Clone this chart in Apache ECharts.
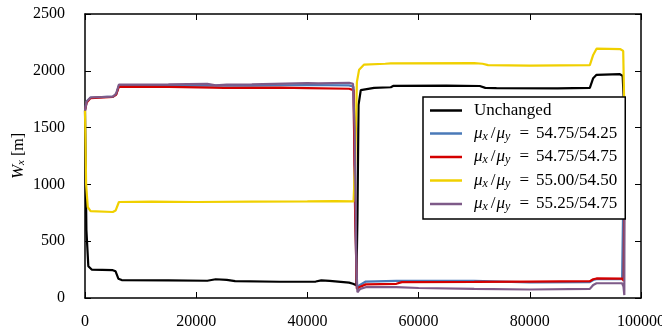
<!DOCTYPE html>
<html>
<head>
<meta charset="utf-8">
<script src="https://cdn.jsdelivr.net/npm/echarts@6/dist/echarts.min.js"></script>
<style>
  html, body { margin: 0; padding: 0; background: #fff; }
  #chart { width: 662px; height: 330px; }
</style>
</head>
<body>
<div id="chart"></div>
<script>
  // data, [x, Wx] pairs
  const unchanged = [
    [0, 1650], [250, 600], [600, 280], [1200, 250], [5000, 245], [5500, 235], [6000, 170], [6600, 158],
    [15000, 155], [22000, 152], [23500, 165], [25500, 160], [27000, 148], [35000, 143], [41500, 145],
    [42500, 155], [44000, 150], [47500, 135], [48200, 125], [48800, 112], [49000, 700], [49200, 1700],
    [49600, 1830], [52000, 1850], [55000, 1855], [55500, 1868], [65000, 1870], [71000, 1866], [72000, 1850],
    [74000, 1848], [85000, 1845], [90800, 1850], [91400, 1935], [92000, 1965], [96200, 1970], [96700, 1955],
    [97000, 1650]
  ];
  const ratioA = [
    [0, 1650], [300, 1730], [1000, 1765], [5000, 1772], [5600, 1790], [6100, 1870], [15000, 1872],
    [30000, 1870], [40000, 1875], [47500, 1872], [48300, 1860], [48600, 700], [48900, 90], [49300, 110],
    [50500, 145], [56000, 150], [70000, 150], [80000, 138], [90800, 140], [91400, 158], [92000, 165],
    [96600, 165], [96900, 150], [97050, 1650]
  ];
  const ratioB = [
    [0, 1650], [300, 1720], [1000, 1760], [5000, 1770], [5600, 1790], [6100, 1860], [15000, 1858],
    [23000, 1852], [25000, 1850], [35000, 1852], [40000, 1848], [47500, 1842], [48300, 1830], [48600, 700],
    [48900, 80], [49300, 95], [50500, 120], [56000, 125], [57000, 140], [70000, 142], [80000, 145],
    [90800, 148], [91400, 165], [92000, 172], [96600, 170], [96900, 150], [97050, 1650]
  ];
  const ratioC = [
    [0, 1650], [200, 1000], [500, 800], [1000, 765], [5000, 757], [5500, 770], [6100, 845], [12000, 848],
    [20000, 845], [30000, 848], [40000, 850], [45000, 852], [48300, 850], [48600, 1200], [48900, 1900],
    [49300, 2010], [50200, 2055], [54000, 2062], [55000, 2066], [70000, 2068], [71500, 2062], [72500, 2050],
    [80000, 2046], [90800, 2050], [91400, 2140], [92000, 2195], [96300, 2190], [96800, 2175], [97000, 1650]
  ];
  const ratioD = [
    [0, 1650], [300, 1730], [1000, 1765], [5000, 1772], [5600, 1800], [6100, 1878], [15000, 1880],
    [22000, 1885], [23500, 1872], [25500, 1878], [30000, 1880], [40000, 1892], [42000, 1890], [47500, 1895],
    [48200, 1885], [48500, 1500], [48800, 300], [49000, 50], [49500, 80], [50500, 95], [56000, 95],
    [60000, 88], [70000, 80], [80000, 75], [90800, 80], [91400, 115], [92000, 130], [96600, 130],
    [96850, 100], [97000, 26], [97050, 1650]
  ];

  const ratios = ['54.75/54.25', '54.75/54.75', '55.00/54.50', '55.25/54.75'];
  const seriesNames = ['Unchanged'].concat(ratios.map(r => 'μx/μy = ' + r));
  const seriesData = [unchanged, ratioA, ratioB, ratioC, ratioD];
  const colors = ['#000000', '#4a7ab8', '#d40000', '#f0d000', '#7e5a88'];
  const xTicks = { min: 0, max: 100000, interval: 20000 };
  const yTicks = { min: 0, max: 2500, interval: 500 };

  const serif = '"Liberation Serif", "DejaVu Serif", serif';
  const frame = { show: true, onZero: false, lineStyle: { color: '#000', width: 1.5 } };
  const tick = { show: true, inside: true, length: 6, lineStyle: { color: '#000', width: 1 } };

  const chart = echarts.init(document.getElementById('chart'), null, { renderer: 'canvas' });

  chart.setOption({
    animation: false,
    color: colors,
    grid: { left: 85, right: 21, top: 14, bottom: 32, outerBoundsMode: 'none', containLabel: false },
    legend: {
      orient: 'vertical',
      left: 423,
      top: 97,
      padding: [5, 8, 6, 7],
      itemGap: 6,
      itemWidth: 32,
      itemHeight: 2.5,
      icon: 'rect',
      backgroundColor: '#fff',
      borderColor: '#000',
      borderWidth: 1.5,
      borderRadius: 0,
      data: seriesNames,
      formatter: function (name) {
        if (name === 'Unchanged') return '{n|Unchanged}';
        const r = name.split(' = ')[1];
        return '{m|μ}{s|x}{sl|/}{m|μ}{s|y}{e|=}{n|' + r + '}';
      },
      textStyle: {
        fontFamily: serif,
        fontSize: 17,
        color: '#000',
        padding: [0, 0, 0, 7],
        rich: {
          n: { fontFamily: serif, fontSize: 17, color: '#000', lineHeight: 17 },
          m: { fontFamily: serif, fontSize: 17, fontStyle: 'italic', color: '#000', lineHeight: 17 },
          s: { fontFamily: serif, fontSize: 12, fontStyle: 'italic', color: '#000', padding: [6, 2, 0, 0] },
          sl: { fontFamily: serif, fontSize: 17, color: '#000', lineHeight: 17, padding: [0, 1, 0, 1] },
          e: { fontFamily: serif, fontSize: 17, color: '#000', lineHeight: 17, padding: [0, 7, 0, 7] }
        }
      }
    },
    xAxis: [
      {
        type: 'value', ...xTicks,
        axisLine: frame, axisTick: tick, splitLine: { show: false },
        axisLabel: {
          fontFamily: serif, fontSize: 16, color: '#000', margin: 16,
          formatter: v => String(v)
        }
      },
      {
        type: 'value', position: 'top', ...xTicks,
        axisLine: frame, axisTick: tick, splitLine: { show: false }, axisLabel: { show: false }
      }
    ],
    yAxis: [
      {
        type: 'value', ...yTicks,
        axisLine: frame, axisTick: tick, splitLine: { show: false },
        axisLabel: {
          fontFamily: serif, fontSize: 16, color: '#000', margin: 20,
          formatter: v => String(v)
        },
        name: '{i|W}{s|x}{n| [m]}',
        nameLocation: 'middle',
        nameGap: 58,
        nameMoveOverlap: false,
        nameTextStyle: {
          fontFamily: serif,
          fontSize: 16,
          color: '#000',
          rich: {
            i: { fontFamily: serif, fontSize: 17, fontStyle: 'italic', color: '#000' },
            s: { fontFamily: serif, fontSize: 11, fontStyle: 'italic', color: '#000', padding: [6, 0, 0, 0] },
            n: { fontFamily: serif, fontSize: 16, color: '#000' }
          }
        }
      },
      {
        type: 'value', position: 'right', ...yTicks,
        axisLine: frame, axisTick: tick, splitLine: { show: false }, axisLabel: { show: false }
      }
    ],
    series: seriesData.map((d, i) => ({
      name: seriesNames[i],
      type: 'line',
      data: d,
      symbol: 'none',
      showSymbol: false,
      lineStyle: { width: 2.2, color: colors[i] },
      itemStyle: { color: colors[i] },
      z: 2 + i * 0.01
    }))
  });

  window.addEventListener('resize', () => chart.resize());
</script>
</body>
</html>
